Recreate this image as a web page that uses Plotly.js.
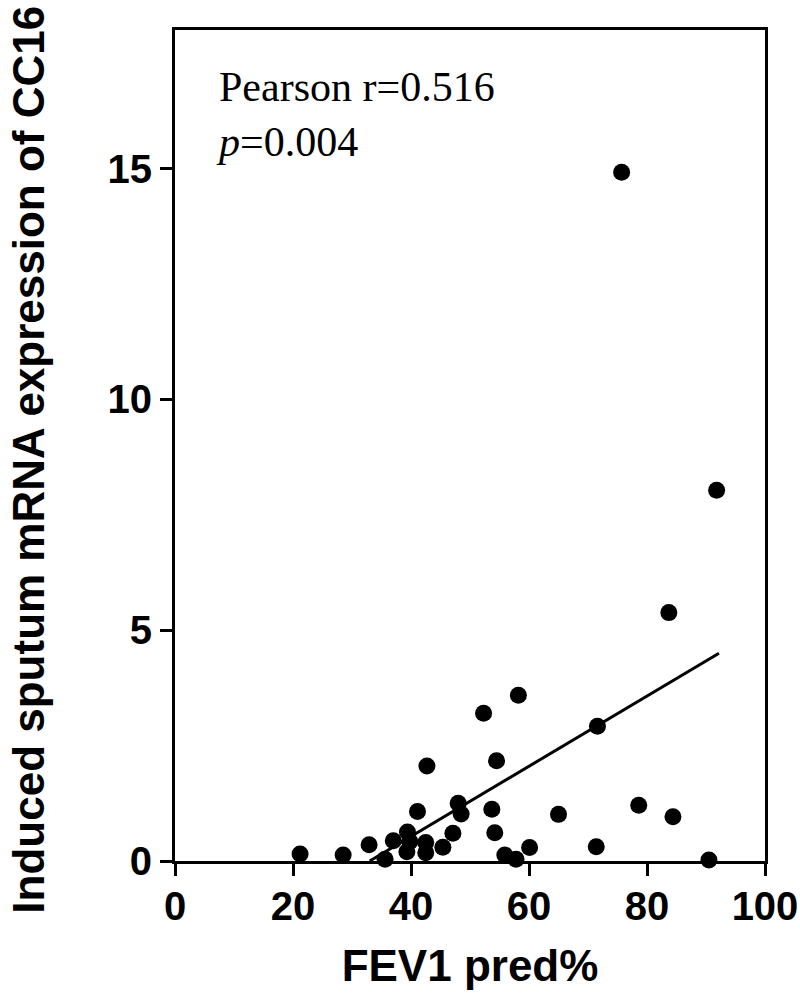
<!DOCTYPE html>
<html>
<head>
<meta charset="utf-8">
<script src="https://cdn.plot.ly/plotly-3.0.1.min.js"></script>
<style>
  html, body { margin: 0; padding: 0; background: #fff; }
  #chart { width: 800px; height: 1000px; }
</style>
</head>
<body>
<div id="chart"></div>
<script>
// FEV1 pred% vs induced sputum CC16 mRNA
const fevPred = [21.2, 28.5, 32.9, 35.6, 37.0, 39.4, 39.8, 39.3, 41.1, 42.5, 42.5,
  42.7, 45.4, 47.1, 48.0, 48.5, 52.3, 53.7, 54.2, 54.5, 55.9, 57.8, 58.2,
  60.1, 65.0, 71.4, 71.6, 75.7, 78.6, 83.7, 84.4, 90.5, 91.8];
const cc16 = [0.15, 0.13, 0.35, 0.04, 0.44, 0.63, 0.42, 0.20, 1.07, 0.40, 0.18,
  2.06, 0.30, 0.60, 1.25, 1.02, 3.20, 1.12, 0.61, 2.17, 0.13, 0.04, 3.59,
  0.29, 1.01, 0.31, 2.92, 14.92, 1.21, 5.38, 0.96, 0.02, 8.03];

// regression line ends
const fitX = [33.0, 92.2];
const fitY = [0, 4.5];

const xTicks = [0, 20, 40, 60, 80, 100];
const yTicks = [0, 5, 10, 15];

const sans = 'Liberation Sans, Arial, sans-serif';
const serif = 'Liberation Serif, Times New Roman, serif';

const traces = [
  {
    x: fevPred, y: cc16,
    type: 'scatter', mode: 'markers',
    marker: { color: '#000', size: 17 },
    cliponaxis: false,
    hoverinfo: 'x+y'
  },
  {
    x: fitX, y: fitY,
    type: 'scatter', mode: 'lines',
    line: { color: '#000', width: 3 },
    hoverinfo: 'skip'
  }
];

const axisCommon = {
  showgrid: false, zeroline: false,
  showline: true, mirror: true, linecolor: '#000', linewidth: 3,
  ticks: 'outside', ticklen: 12, tickwidth: 3, tickcolor: '#000',
  tickfont: { family: sans, size: 40, weight: 'bold', color: '#000' },
  fixedrange: true,
  automargin: false
};

const layout = {
  width: 800, height: 1000,
  margin: { l: 175, r: 35, t: 30, b: 139 },
  paper_bgcolor: '#fff', plot_bgcolor: '#fff',
  showlegend: false,
  xaxis: Object.assign({}, axisCommon, {
    range: [0, 100], tickvals: xTicks,
    ticklabelstandoff: -4,
    title: { text: 'FEV1 pred%', font: { family: sans, size: 44, weight: 'bold', color: '#000' }, standoff: 24 }
  }),
  yaxis: Object.assign({}, axisCommon, {
    range: [0, 18], tickvals: yTicks
  }),
  annotations: [
    {
      // y axis title, placed by hand so it sits where the original has it
      xref: 'paper', yref: 'paper', x: -0.248, y: 0.4826,
      xanchor: 'center', yanchor: 'middle', textangle: -90, showarrow: false,
      text: 'Induced sputum mRNA expression of CC16',
      font: { family: sans, size: 44, weight: 'bold', color: '#000' }
    },
    {
      xref: 'paper', yref: 'paper', x: 0.066, y: 0.962,
      xanchor: 'left', yanchor: 'top', align: 'left', showarrow: false,
      text: 'Pearson r=0.516<br><i>p</i>=0.004',
      font: { family: serif, size: 42, color: '#000' }
    }
  ]
};

Plotly.newPlot('chart', traces, layout, { staticPlot: true });
</script>
</body>
</html>
